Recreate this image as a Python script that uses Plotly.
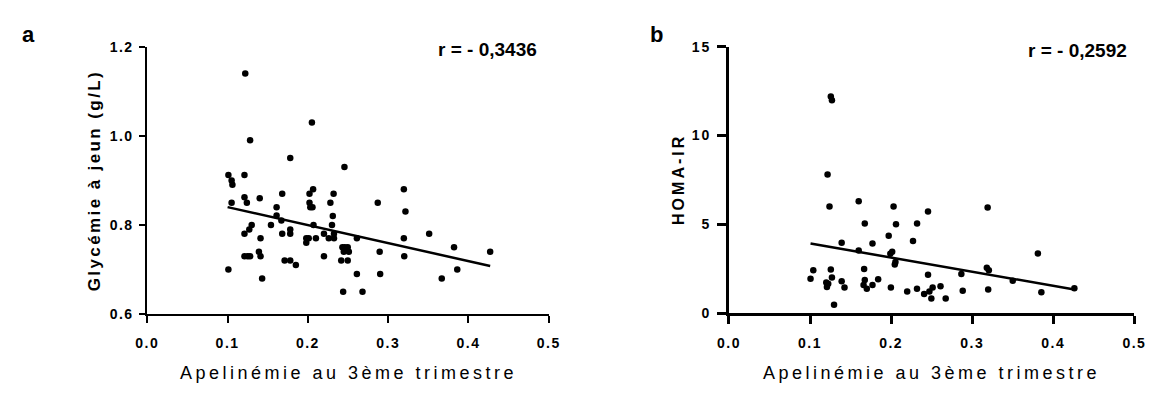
import plotly.graph_objects as go

# ---------------- data: panel a (fasting glycaemia) ----------------
apelin_a = [0.101, 0.105, 0.106, 0.121, 0.105, 0.121, 0.124, 0.140, 0.168, 0.161,
            0.202, 0.2065, 0.202, 0.203, 0.2057, 0.232, 0.228, 0.231, 0.161, 0.167,
            0.154, 0.130, 0.127, 0.121, 0.141, 0.168, 0.178, 0.178, 0.207, 0.198,
            0.201, 0.198, 0.210, 0.220, 0.226, 0.230, 0.121, 0.125, 0.128, 0.139,
            0.141, 0.101, 0.171, 0.178, 0.185, 0.220, 0.143, 0.122, 0.205, 0.128,
            0.178, 0.2455, 0.3195, 0.287, 0.3215, 0.2325, 0.2325, 0.261, 0.3195, 0.351,
            0.382, 0.243, 0.246, 0.2496, 0.2447, 0.251, 0.2894, 0.320, 0.2415, 0.2496,
            0.261, 0.290, 0.386, 0.3667, 0.2439, 0.268, 0.427]
glyc_a = [0.912, 0.90, 0.89, 0.912, 0.85, 0.862, 0.85, 0.86, 0.87, 0.84,
          0.87, 0.88, 0.85, 0.84, 0.84, 0.87, 0.85, 0.82, 0.821, 0.81,
          0.80, 0.80, 0.79, 0.78, 0.77, 0.78, 0.79, 0.78, 0.80, 0.77,
          0.77, 0.76, 0.77, 0.78, 0.77, 0.80, 0.73, 0.73, 0.73, 0.74,
          0.73, 0.70, 0.72, 0.72, 0.71, 0.73, 0.68, 1.14, 1.03, 0.99,
          0.95, 0.93, 0.88, 0.85, 0.83, 0.78, 0.77, 0.77, 0.77, 0.78,
          0.75, 0.75, 0.75, 0.75, 0.74, 0.74, 0.74, 0.73, 0.72, 0.72,
          0.69, 0.69, 0.70, 0.68, 0.65, 0.65, 0.74]
fit_x_a = [0.100, 0.427]
fit_y_a = [0.840, 0.708]

# ---------------- data: panel b (HOMA-IR) ----------------
apelin_b = [0.1216, 0.124, 0.160, 0.1675, 0.203, 0.197, 0.139, 0.177, 0.160, 0.199,
            0.2013, 0.2053, 0.2045, 0.104, 0.1256, 0.1667, 0.1006, 0.127, 0.120, 0.1224,
            0.139, 0.1675, 0.184, 0.1208, 0.1425, 0.166, 0.170, 0.177, 0.1997, 0.1296,
            0.1256, 0.127, 0.2455, 0.319, 0.206, 0.232, 0.227, 0.381, 0.318, 0.3205,
            0.2866, 0.2455, 0.350, 0.426, 0.2198, 0.2319, 0.2407, 0.2472, 0.2512, 0.2496,
            0.2609, 0.2673, 0.2883, 0.3197, 0.3853]
homa_b = [7.81, 6.01, 6.30, 5.04, 6.01, 4.35, 3.96, 3.92, 3.53, 3.35,
          3.45, 2.88, 2.74, 2.41, 2.45, 2.48, 1.94, 2.01, 1.73, 1.66,
          1.80, 1.87, 1.91, 1.47, 1.44, 1.58, 1.37, 1.58, 1.44, 0.47,
          12.2, 11.98, 5.72, 5.94, 5.00, 5.04, 4.06, 3.36, 2.55, 2.41,
          2.20, 2.16, 1.83, 1.40, 1.22, 1.37, 1.08, 1.22, 1.44, 0.83,
          1.51, 0.83, 1.26, 1.33, 1.17]
fit_x_b = [0.1006, 0.426]
fit_y_b = [3.92, 1.33]

# ---------------- labels ----------------
x_tickvals = [0.0, 0.1, 0.2, 0.3, 0.4, 0.5]
x_ticklabels = ["0.0", "0.1", "0.2", "0.3", "0.4", "0.5"]
ya_tickvals = [0.6, 0.8, 1.0, 1.2]
ya_ticklabels = ["0.6", "0.8", "1.0", "1.2"]
yb_tickvals = [0, 5, 10, 15]
yb_ticklabels = ["0", "5", "10", "15"]
x_title = "Apelinémie au 3ème trimestre"
ya_title = "Glycémie à jeun (g/L)"
yb_title = "HOMA-IR"
r_a = "r = - 0,3436"
r_b = "r = - 0,2592"

# page body has a default 8px margin: the figure is sized to fill the rest of the window
OFF = 8
W, H = 1164 - OFF, 394 - OFF
FONT = "Liberation Sans, Arial, sans-serif"


def spaced(t, px):
    return f'<span style="letter-spacing:{px}px">{t}</span>'


def px_x(p):
    return (p - OFF) / W


def px_y(p):
    return 1 - (p - OFF) / H


fig = go.Figure()
fig.add_trace(go.Scatter(x=apelin_a, y=glyc_a, mode="markers",
                         marker=dict(color="black", size=6.5),
                         xaxis="x", yaxis="y", showlegend=False, cliponaxis=False))
fig.add_trace(go.Scatter(x=fit_x_a, y=fit_y_a, mode="lines",
                         line=dict(color="black", width=2.5),
                         xaxis="x", yaxis="y", showlegend=False))
fig.add_trace(go.Scatter(x=apelin_b, y=homa_b, mode="markers",
                         marker=dict(color="black", size=6.5),
                         xaxis="x2", yaxis="y2", showlegend=False, cliponaxis=False))
fig.add_trace(go.Scatter(x=fit_x_b, y=fit_y_b, mode="lines",
                         line=dict(color="black", width=2.5),
                         xaxis="x2", yaxis="y2", showlegend=False))

tickfont = dict(family=FONT, size=14, color="black")
common = dict(showgrid=False, zeroline=False, showline=True, linecolor="black",
              ticks="outside", tickcolor="black", tickfont=tickfont, fixedrange=True)

fig.update_layout(
    width=W, height=H,
    margin=dict(l=0, r=0, t=0, b=0),
    paper_bgcolor="white", plot_bgcolor="white",
    font=dict(family=FONT, color="black"),
    xaxis=dict(domain=[px_x(138), px_x(548)], range=[0, 0.5], anchor="y",
               tickvals=x_tickvals, ticktext=[spaced(f"<b>{t}</b>", 1.5) for t in x_ticklabels],
               linewidth=1.8, ticklen=7, tickwidth=1.8, ticklabelstandoff=8, **common),
    yaxis=dict(domain=[px_y(319), px_y(40)], range=[0.6, 1.2], anchor="x",
               tickvals=ya_tickvals, ticktext=[spaced(f"<b>{t}</b>", 1.5) for t in ya_ticklabels],
               linewidth=1.8, ticklen=6, tickwidth=1.8, ticklabelstandoff=3, **common),
    xaxis2=dict(domain=[px_x(732), px_x(1146)], range=[0, 0.5], anchor="y2",
                tickvals=x_tickvals, ticktext=[spaced(f"<b>{t}</b>", 1.5) for t in x_ticklabels],
                linewidth=2.5, ticklen=8, tickwidth=2.5, ticklabelstandoff=7, **common),
    yaxis2=dict(domain=[px_y(318), px_y(40)], range=[0, 15], anchor="x2",
                tickvals=yb_tickvals, ticktext=[spaced(f"<b>{t}</b>", 2) for t in yb_ticklabels],
                linewidth=2.5, ticklen=9, tickwidth=2.5, ticklabelstandoff=3, **common),
)

ann = []
# panel letters
ann.append(dict(text="<b>a</b>", x=px_x(17), y=px_y(27), xref="paper", yref="paper",
                showarrow=False, font=dict(size=22, family=FONT), xanchor="center", yanchor="middle"))
ann.append(dict(text="<b>b</b>", x=px_x(658), y=px_y(27), xref="paper", yref="paper",
                showarrow=False, font=dict(size=22, family=FONT), xanchor="center", yanchor="middle"))
# r values
ann.append(dict(text=f"<b>{r_a}</b>", x=px_x(538), y=px_y(43), xref="paper", yref="paper",
                showarrow=False, font=dict(size=19, family=FONT), xanchor="right", yanchor="middle"))
ann.append(dict(text=f"<b>{r_b}</b>", x=px_x(1141), y=px_y(44), xref="paper", yref="paper",
                showarrow=False, font=dict(size=19, family=FONT), xanchor="right", yanchor="middle"))
# x titles
for cx in (343, 939):
    ann.append(dict(text=spaced(x_title, 3.5), x=px_x(cx), y=px_y(380), xref="paper", yref="paper",
                    showarrow=False, font=dict(size=18, family=FONT), xanchor="center", yanchor="middle"))
# y titles
ann.append(dict(text=spaced(f"<b>{ya_title}</b>", 2.4), x=px_x(84), y=px_y(180), xref="paper", yref="paper",
                showarrow=False, textangle=-90, font=dict(size=17, family=FONT),
                xanchor="center", yanchor="middle"))
ann.append(dict(text=spaced(f"<b>{yb_title}</b>", 3), x=px_x(681), y=px_y(179), xref="paper", yref="paper",
                showarrow=False, textangle=-90, font=dict(size=16, family=FONT),
                xanchor="center", yanchor="middle"))
fig.update_layout(annotations=ann)

fig.write_html("out.html")
